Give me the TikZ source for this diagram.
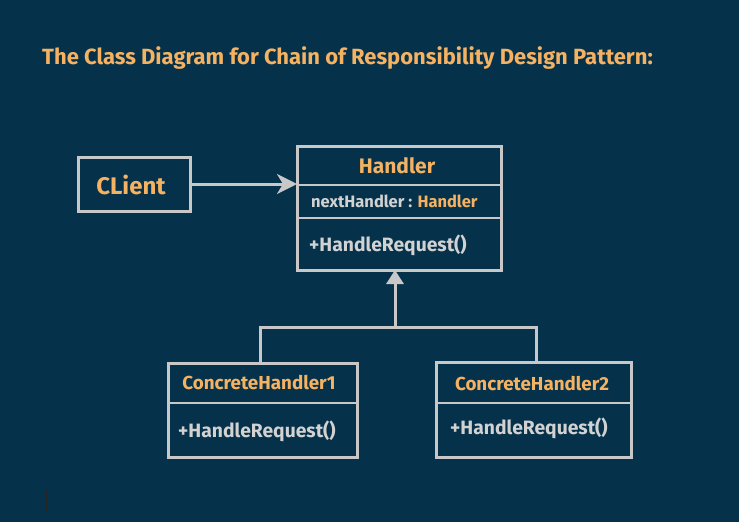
\documentclass[tikz,border=0pt]{standalone}
\usepackage{fontspec}
\setmainfont{Fira Sans}
\newfontfamily\titlefont{Fira Sans}
\usetikzlibrary{arrows.meta,calc}
\definecolor{bg}{HTML}{05324A}
\definecolor{orng}{HTML}{F5B262}
\definecolor{lgray}{HTML}{C8C8C8}
\definecolor{tgray}{HTML}{D2D2D2}
\tikzset{
  box/.style={draw=lgray, line width=3pt, rectangle, inner sep=0pt, outer sep=0pt},
  sep/.style={draw=lgray, line width=2.5pt},
  conn/.style={draw=lgray, line width=3pt},
  ttl/.style={text=orng, font=\bfseries, inner sep=0pt},
  mth/.style={text=tgray, font=\bfseries, inner sep=0pt, anchor=base west},
}
\begin{document}
\begin{tikzpicture}[x=1pt,y=-1pt]
\fill[bg] (0,0) rectangle (739,522);
\useasboundingbox (0,0) rectangle (739,522);

\node[ttl, anchor=base west, font=\titlefont\bfseries\fontsize{22}{26}\selectfont] (title) at (42,64)
  {The Class Diagram for Chain of Responsibility Design Pattern:};

% Client
\node[box, minimum width=112, minimum height=54] (client) at (134,184) {};
\node[ttl, font=\bfseries\fontsize{24}{28}\selectfont] (clienttxt) at (131,185) {CLient};

% Handler
\node[box, minimum width=204, minimum height=124] (handler) at (399,208) {};
\draw[sep] (handler.west |- 0,185) -- (handler.east |- 0,185);
\draw[sep] (handler.west |- 0,218) -- (handler.east |- 0,218);
\node[ttl, font=\bfseries\fontsize{21}{24}\selectfont] (htitle) at (397,166) {Handler};
\node[mth, font=\bfseries\fontsize{16.5}{19}\selectfont] (hattr) at (311,207)
  {nextHandler : \textcolor{orng}{Handler}};
\node[mth, font=\bfseries\fontsize{19.3}{23}\selectfont] (hmeth) at (309,251) {+HandleRequest()};

% ConcreteHandler1
\node[box, minimum width=189, minimum height=94] (ch1) at (262.5,410) {};
\draw[sep] (ch1.west |- 0,403) -- (ch1.east |- 0,403);
\node[ttl, font=\bfseries\fontsize{18.8}{22}\selectfont] (ch1t) at (259,383) {ConcreteHandler1};
\node[mth, font=\bfseries\fontsize{19.3}{23}\selectfont] (ch1m) at (178,437) {+HandleRequest()};

% ConcreteHandler2
\node[box, minimum width=195, minimum height=95] (ch2) at (533.5,409.5) {};
\draw[sep] (ch2.west |- 0,403) -- (ch2.east |- 0,403);
\node[ttl, font=\bfseries\fontsize{18.8}{22}\selectfont] (ch2t) at (532,384) {ConcreteHandler2};
\node[mth, font=\bfseries\fontsize{19.3}{23}\selectfont] (ch2m) at (450,434) {+HandleRequest()};

% association
\draw[conn, -{Stealth[length=20pt,width=20pt,inset=6pt]}] (client.east) -- (handler.west |- client.east);

% inheritance
\coordinate (junc) at (395,327);
\draw[conn] (ch1.north -| 260,0) |- (junc) -| (ch2.north -| 536,0);
\draw[conn, -{Triangle[length=14pt,width=17pt]}] (junc) -- (handler.south -| junc);

% cursor mark
\draw[draw=black!85, line width=2pt] (46,490) -- (46,512);
\end{tikzpicture}
\end{document}
